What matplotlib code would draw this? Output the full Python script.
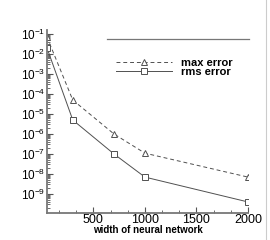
import matplotlib
matplotlib.use("Agg")
import matplotlib.pyplot as plt
from matplotlib.ticker import LogLocator, AutoMinorLocator, FixedLocator, NullFormatter
from matplotlib.lines import Line2D

width = [50, 300, 700, 1000, 2000]
max_error = [7e-2, 5e-5, 1.0e-6, 1.1e-7, 7e-9]
rms_error = [2e-2, 5e-6, 1.0e-7, 7e-9, 4e-10]
xticks = [500, 1000, 1500, 2000]
yticks = [1e-9, 1e-8, 1e-7, 1e-6, 1e-5, 1e-4, 1e-3, 1e-2, 1e-1]

plt.rcParams['font.family'] = ['Liberation Sans', 'DejaVu Sans']
plt.rcParams['mathtext.fontset'] = 'custom'
plt.rcParams['mathtext.rm'] = 'Liberation Sans'

fig = plt.figure(figsize=(2.7, 2.4), dpi=100)
ax = fig.add_axes([47/270, 1-213/240, (248-47)/270, (213-30)/240])

lc = '#505050'
ax.plot(width, max_error, ls=(0, (4, 3)), color=lc, lw=0.7, marker='^',
        mfc='white', mec=lc, ms=4, mew=0.7, label='max error')
ax.plot(width, rms_error, ls='-', color=lc, lw=0.7, marker='s',
        mfc='white', mec=lc, ms=3.8, mew=0.7, label='rms error')

ax.set_yscale('log')
ax.set_xlim(50, 2000)
ax.set_ylim(10**-9.95, 10**-0.8)
ax.xaxis.set_major_locator(FixedLocator(xticks))
ax.xaxis.set_minor_locator(AutoMinorLocator(3))
ax.yaxis.set_major_locator(FixedLocator(yticks))
ax.yaxis.set_minor_locator(LogLocator(base=10, subs=range(2, 10), numticks=20))
ax.yaxis.set_minor_formatter(NullFormatter())

for s in ['top', 'right']:
    ax.spines[s].set_visible(False)
for s in ['left', 'bottom']:
    ax.spines[s].set_color('#777777')
    ax.spines[s].set_linewidth(1.3)

ax.tick_params(which='both', direction='in', color='#555555')
ax.tick_params(which='major', length=4, width=0.8)
ax.tick_params(which='minor', length=2, width=0.6)
ax.tick_params(axis='x', pad=1, labelsize=9)
ax.tick_params(axis='y', pad=1.2, labelsize=8.5)

ax.set_xlabel('width of neural network', fontsize=7, fontweight='bold', labelpad=-1)

leg = ax.legend(loc='upper left', bbox_to_anchor=(116/270, 1-58/240),
                bbox_transform=fig.transFigure, frameon=False,
                prop={'size': 8, 'weight': 'bold'}, handlelength=5.0,
                handletextpad=0.85, labelspacing=-0.12, borderpad=0, borderaxespad=0)

fig.add_artist(Line2D([107/270, 249/270], [1-39/240, 1-39/240], color='#777777', lw=0.9))
fig.add_artist(Line2D([266/270, 266/270], [0, 1], color='#cccccc', lw=0.8))

fig.savefig('out.png', dpi=100)
